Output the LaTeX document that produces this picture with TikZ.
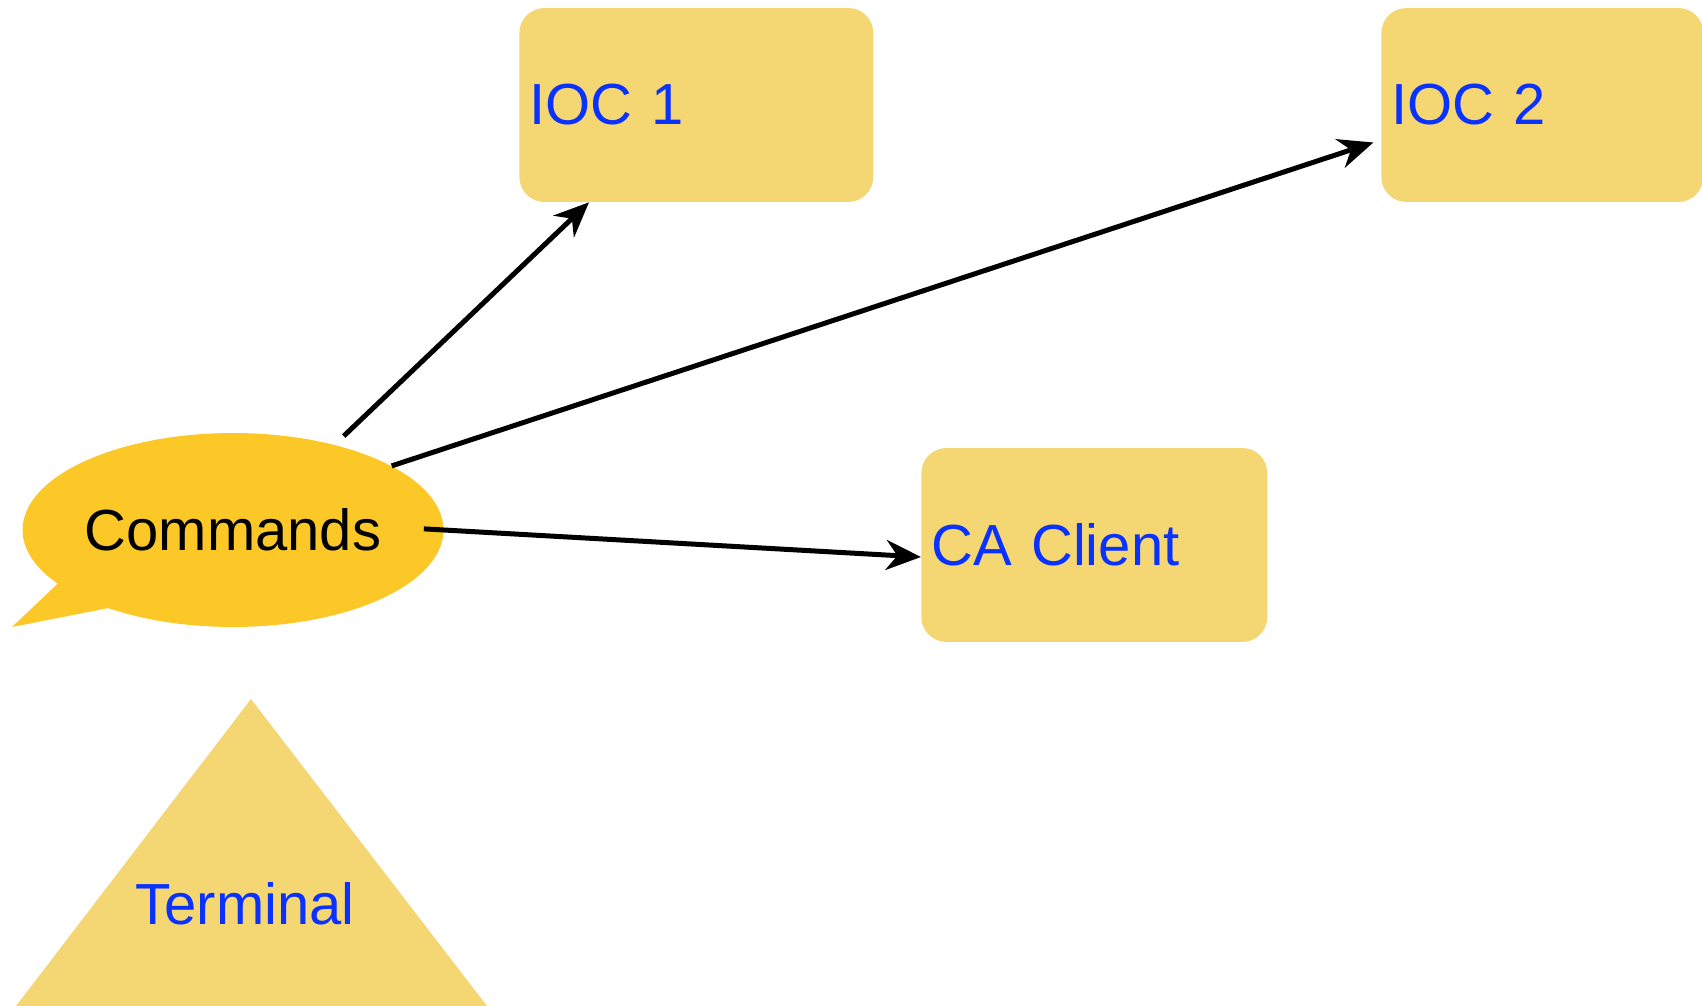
\documentclass[tikz,border=0pt]{standalone}
\usepackage{fontspec}
\setmainfont{Liberation Sans}
\usepackage{xcolor}
\usetikzlibrary{positioning, arrows.meta, shapes.callouts}
\definecolor{boxyellow}{RGB}{244,215,115}
\definecolor{bubbleyellow}{RGB}{252,200,40}
\definecolor{labelblue}{RGB}{10,50,255}

\begin{document}
\begin{tikzpicture}[x=0.02cm, y=-0.02cm,
  every node/.style={font=\fontsize{33}{40}\selectfont},
  host/.style={rectangle, rounded corners=0.5cm, fill=boxyellow, text=labelblue,
    minimum height=3.88cm, inner xsep=0.2cm, align=left, anchor=west},
  cmdarrow/.style={-{Stealth[length=0.7cm, width=0.6cm]}, line width=0.1cm}]
  \useasboundingbox (0,0) rectangle (1702,1006);
  \node[host, text width=6.68cm] (ioc1) at (519,105) {IOC 1};
  \node[host, text width=6.04cm] (ioc2) at (1381,105) {IOC 2};
  \node[host, text width=6.52cm] (ca) at (921,545) {CA Client};
  % terminal
  \fill[boxyellow] (251,699) -- (16,1006) -- (487,1006) -- cycle;
  \node[text=labelblue] (term) at (245,904) {Terminal};
  \node[ellipse callout, fill=bubbleyellow, inner xsep=0pt, minimum width=8.42cm, minimum height=3.88cm,
    callout absolute pointer={(12,627)}, callout pointer arc=20] (cmd) at (233,530) {Commands};
  \draw[cmdarrow, shorten <=0.25cm] (cmd.40.5) -- ([xshift=1.4cm]ioc1.south west);
  \draw[cmdarrow, shorten >=0.16cm] (cmd.22.6) -- ([yshift=-0.7cm]ioc2.west);
  \draw[cmdarrow, shorten <=-0.4cm] (cmd.east) -- ([yshift=-0.24cm]ca.west);
\end{tikzpicture}
\end{document}
